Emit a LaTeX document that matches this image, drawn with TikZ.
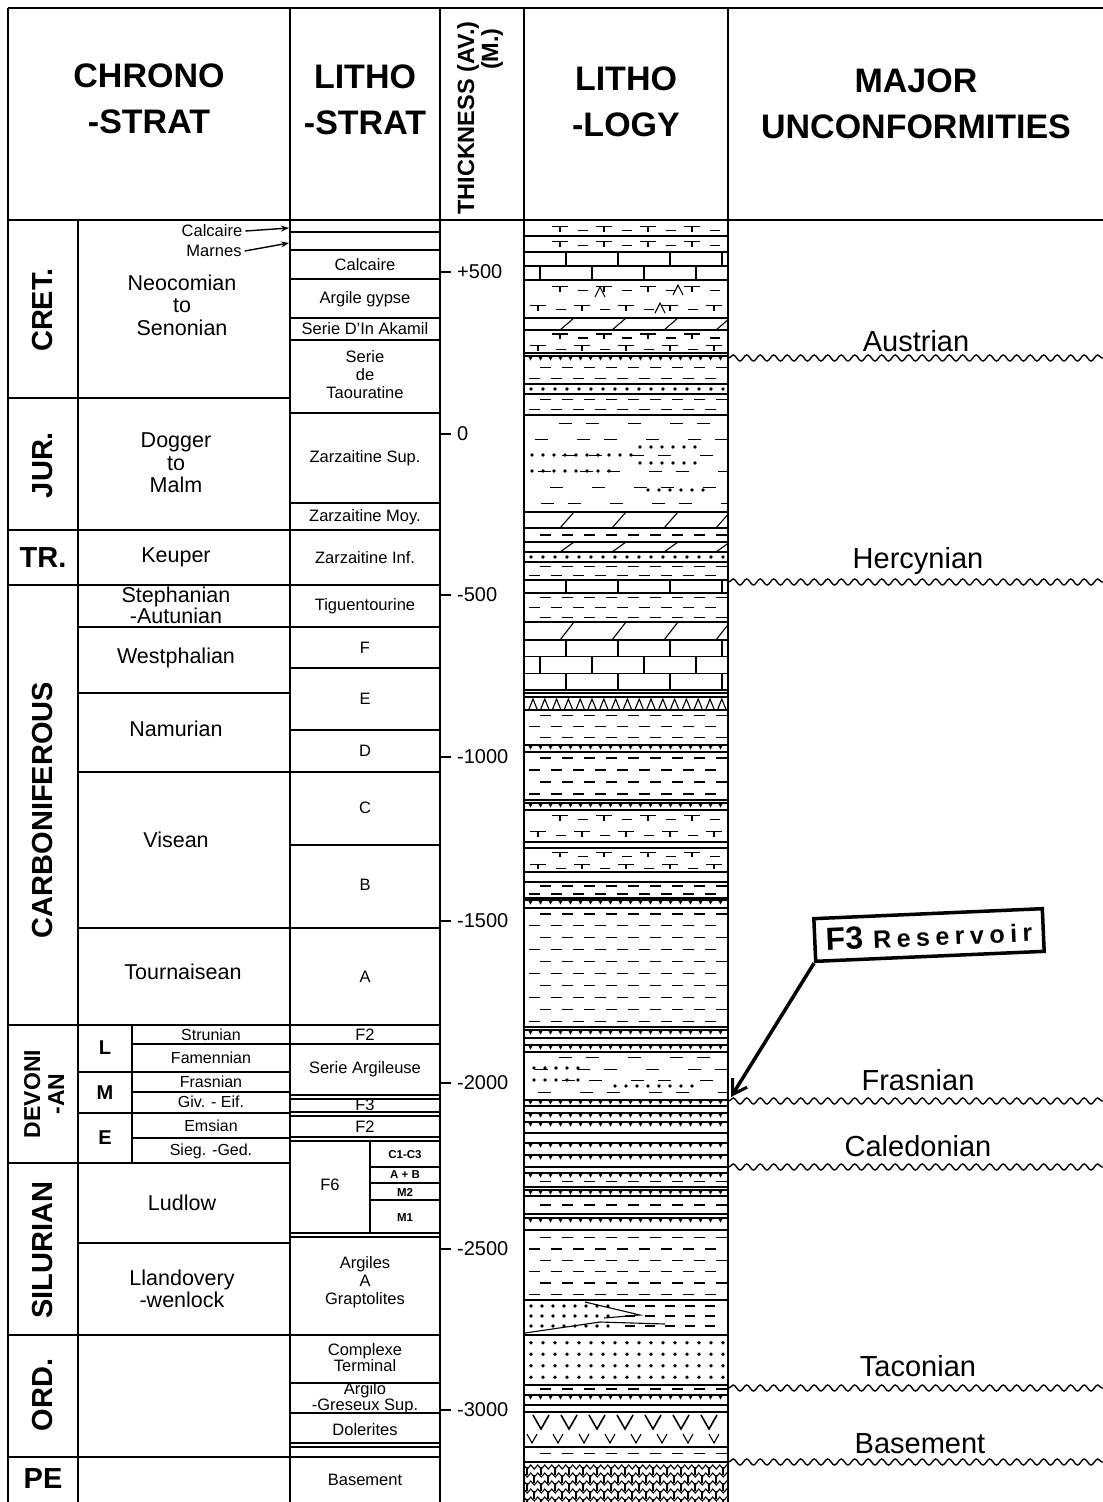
\documentclass[tikz,border=0pt]{standalone}
\usepackage{fontspec}
\setmainfont{Liberation Sans}
\usetikzlibrary{arrows.meta,decorations.pathmorphing}

\newcommand{\rsp}{\kern5.5pt}

\tikzset{
  frame/.style={line width=2.2pt},
  thinl/.style={line width=1.4pt},
  ln/.style={line width=1.1pt},
  wavy/.style={line width=1.4pt, decorate, decoration={snake, segment length=13.5pt, amplitude=3pt}},
  hdr/.style={font=\fontsize{34}{46}\selectfont\bfseries, align=center, inner sep=0pt},
  era/.style={font=\fontsize{29}{32}\selectfont\bfseries, rotate=90, inner sep=0pt},
  erah/.style={font=\fontsize{29}{32}\selectfont\bfseries, inner sep=0pt},
  chr/.style={font=\fontsize{21.5}{22.5}\selectfont, align=center, inner sep=0pt},
  stg/.style={font=\fontsize{16}{17}\selectfont, inner sep=0pt},
  lme/.style={font=\fontsize{20}{22}\selectfont\bfseries, inner sep=0pt},
  ltx/.style={font=\fontsize{16.5}{18}\selectfont, align=center, inner sep=0pt},
  sml/.style={font=\fontsize{11.5}{12}\selectfont\bfseries, inner sep=0pt},
  thk/.style={font=\fontsize{20}{22}\selectfont, inner sep=0pt, anchor=west},
  unc/.style={font=\fontsize{29}{32}\selectfont, inner sep=0pt},
}

% ---------- lithology pattern helpers ----------
\newcommand{\lithShale}[3]{%
 \begin{scope}
 \clip (525,#1) rectangle (727,#2);
 \foreach \i in {1,...,#3}{%
  \pgfmathsetmacro{\lyy}{#1+(#2-#1)*(\i-0.5)/#3}%
  \pgfmathsetmacro{\loff}{mod(\i,2)*11}%
  \foreach \k in {0,...,9}{%
   \draw[ln] ({529+\loff+\k*22},\lyy) -- ++(11,0);
  }
 }
 \end{scope}}

\newcommand{\lithShaleS}[3]{%
 \begin{scope}
 \clip (525,#1) rectangle (727,#2);
 \foreach \i in {1,...,#3}{%
  \pgfmathsetmacro{\lyy}{#1+(#2-#1)*(\i-0.5)/#3}%
  \foreach \k in {0,...,5}{%
   \pgfmathsetmacro{\lxx}{532+mod(\i,2)*18+\k*36+mod(\k*7+\i*3,5)*3}%
   \draw[ln] (\lxx,\lyy) -- ++(13,0);
  }
 }
 \end{scope}}

\newcommand{\lithLime}[3]{%
 \begin{scope}
 \clip (525,#1) rectangle (727,#2);
 \foreach \i in {1,...,#3}{%
  \pgfmathsetmacro{\lya}{#1+(#2-#1)*(\i-1)/#3}%
  \pgfmathsetmacro{\lyb}{#1+(#2-#1)*\i/#3}%
  \pgfmathsetmacro{\loff}{mod(\i,2)*26}%
  \draw[ln] (522,\lyb) -- (730,\lyb);
  \foreach \k in {0,...,4}{%
   \draw[ln] ({540+\loff+\k*52},\lya) -- ({540+\loff+\k*52},\lyb);
  }
 }
 \end{scope}}

\newcommand{\lithDolo}[3]{%
 \begin{scope}
 \clip (525,#1) rectangle (727,#2);
 \foreach \i in {1,...,#3}{%
  \pgfmathsetmacro{\lya}{#1+(#2-#1)*(\i-1)/#3}%
  \pgfmathsetmacro{\lyb}{#1+(#2-#1)*\i/#3}%
  \pgfmathsetmacro{\loff}{mod(\i,2)*26}%
  \draw[ln] (522,\lyb) -- (730,\lyb);
  \foreach \k in {0,...,4}{%
   \draw[ln] ({534+\loff+\k*52},\lyb) -- ({548+\loff+\k*52},\lya);
  }
 }
 \end{scope}}

\newcommand{\lithSand}[3]{%
 \begin{scope}
 \clip (525,#1) rectangle (727,#2);
 \foreach \i in {1,...,#3}{%
  \pgfmathsetmacro{\lyy}{#1+(#2-#1)*(\i-0.5)/#3}%
  \foreach \k in {0,...,16}{%
   \fill ({531+\k*12},\lyy) circle (1.8pt);
  }
 }
 \end{scope}}

\newcommand{\lithMarl}[3]{%
 \begin{scope}
 \clip (525,#1) rectangle (727,#2);
 \foreach \i in {1,...,#3}{%
  \pgfmathsetmacro{\lyy}{#1+(#2-#1)*(\i-0.65)/#3}%
  \pgfmathsetmacro{\loff}{mod(\i,2)*22}%
  \foreach \k in {0,...,4}{%
   \draw[ln] ({530+\loff+\k*44},\lyy) -- ++(16,0);
   \draw[ln] ({538+\loff+\k*44},\lyy) -- ++(0,5);
   \draw[ln] ({556+\loff+\k*44},{\lyy+4}) -- ++(10,0);
  }
 }
 \end{scope}}

\newcommand{\lithTooth}[1]{%
 \draw[ln] (524,#1) -- (728,#1);
 \foreach \k in {0,...,19}{%
  \fill ({528+\k*10},#1) -- ++(5,0) -- ++(-2.5,4.5) -- cycle;
 }}

\newcommand{\lithAnh}[2]{%
 \foreach \k in {0,...,16}{%
  \draw[ln] ({529+\k*11.8},#2) -- ({533+\k*11.8},#1) -- ({537+\k*11.8},#2);
 }}

\newcommand{\lithCaret}[2]{%
 \draw[ln] ({#1-5},{#2+5}) -- (#1,{#2-5}) -- ({#1+5},{#2+5});}

\newcommand{\lithDots}[3]{%
 \foreach \k in {1,...,#2}{%
  \fill ({#1+(\k-1)*11},#3) circle (1.8pt);
 }}

\begin{document}
\begin{tikzpicture}[x=1pt,y=-1pt]
\useasboundingbox (0,0) rectangle (1103,1502);
\fill[white] (0,0) rectangle (1103,1502);

% ================= LITHOLOGY COLUMN =================
\lithMarl{222}{236}{1}
\lithMarl{236}{252}{1}
\lithLime{252}{280}{2}
\lithMarl{280}{318}{2}
\lithCaret{600}{292}
\lithCaret{678}{290}
\lithCaret{660}{308}
\lithDolo{318}{330}{1}
\lithMarl{330}{353}{2}
\lithTooth{356}
\lithShale{362}{384}{2}
\lithSand{384}{394}{1}
\lithShale{394}{415}{2}
\lithShaleS{415}{512}{6}
\lithDots{640}{6}{447}
\lithDots{640}{6}{463}
\lithDots{532}{10}{455}
\lithDots{532}{8}{471}
\lithDots{648}{6}{490}
\lithDolo{512}{528}{1}
\lithShale{528}{542}{1}
\lithDolo{542}{552}{1}
\lithSand{552}{562}{1}
\lithShale{562}{580}{2}
\lithLime{580}{593}{1}
\lithShale{593}{622}{3}
\lithDolo{622}{640}{1}
\lithLime{640}{690}{3}
\lithAnh{699}{709}
\lithShale{710}{743}{3}
\lithTooth{745}
\lithShale{752}{800}{4}
\lithTooth{803}
\lithMarl{810}{842}{2}
\lithMarl{848}{872}{2}
\lithShale{882}{898}{2}
\lithTooth{900}
\lithShale{908}{1027}{10}
\lithTooth{1030}
\lithTooth{1045}
\lithShaleS{1052}{1098}{4}
\lithDots{534}{5}{1068}
\lithDots{534}{5}{1080}
\lithDots{615}{8}{1086}
\lithTooth{1100}
\lithTooth{1113}
\lithTooth{1122}
\lithTooth{1143}
\lithTooth{1155}
\lithTooth{1173}
\lithShale{1176}{1187}{1}
\lithTooth{1190}
\lithShale{1196}{1214}{1}
\lithTooth{1218}
\lithShale{1232}{1300}{6}
\begin{scope}
 \clip (525,1300) rectangle (727,1335);
 \foreach \r in {0,1,2}{\lithDots{531}{8}{1306+\r*10}}
 \foreach \r in {0,1,2}{\foreach \k in {0,...,4}{\draw[ln] ({625+\k*20},{1306+\r*10}) -- ++(10,0);}}
 \draw[ln] (525,1333) -- (600,1322) -- (665,1324);
 \draw[ln] (585,1302) -- (640,1315) -- (604,1318);
\end{scope}
\lithSand{1337}{1383}{4}
\draw[line width=2pt] (524,1385) -- (728,1385);
\lithShale{1385}{1393}{1}
\lithTooth{1395}
\foreach \k in {0,...,6}{\draw[line width=1.6pt] ({533+\k*28},1415) -- ({541+\k*28},1429) -- ({549+\k*28},1415);}
\foreach \k in {0,...,7}{\draw[ln] ({527+\k*26},1434) -- ({532+\k*26},1443) -- ({537+\k*26},1434);}
\lithShale{1447}{1460}{1}
\begin{scope}
 \clip (525,1462) rectangle (727,1502);
 \foreach \r in {0,...,4}{%
  \pgfmathsetmacro{\lyy}{1467+\r*8}
  \pgfmathsetmacro{\loff}{mod(\r,2)*7}
  \draw[ln, decorate, decoration={zigzag, segment length=7pt, amplitude=2pt}] (522,\lyy) -- (730,\lyy);
  \foreach \k in {0,...,14}{\draw[ln] ({527+\loff+\k*14},\lyy) -- ++(0,8);}
 }
\end{scope}
\foreach \y in {236,252,318,330,353,384,394,415,512,528,542,552,562,580,622,640,693,697,710,752,800,810,842,848,872,882,898,908,1027,1038,1052,1106,1133,1167,1187,1196,1214,1230,1300,1335,1405,1412,1447,1462}{
  \draw[ln] (524,\y) -- (728,\y);
}

% ================= TABLE FRAME =================
\draw[frame] (8,8) -- (1103,8);
\draw[frame] (8,220) -- (1103,220);
\draw[frame] (8,8) -- (8,1502);
\draw[frame] (78,220) -- (78,1502);
\draw[frame] (132,1025) -- (132,1163);
\draw[frame] (290,8) -- (290,1502);
\draw[frame] (370,1141) -- (370,1233);
\draw[frame] (440,8) -- (440,1502);
\draw[frame] (524,8) -- (524,1502);
\draw[frame] (728,8) -- (728,1502);
\foreach \y in {398,530,585,1025,1163,1335,1457}{\draw[frame] (8,\y) -- (290,\y);}
\foreach \y in {627,693,772,928,1243}{\draw[frame] (78,\y) -- (290,\y);}
\foreach \y in {1072,1113}{\draw[frame] (78,\y) -- (132,\y);}
\foreach \y in {1044,1072,1092,1113,1138}{\draw[thinl] (132,\y) -- (290,\y);}
\foreach \y in {232,250,279,318,340,413,503,530,585,627,668,730,772,845,928,1025,1044,1095,1099,1112,1116,1137,1141,1233,1237,1335,1383,1443,1447,1457}{\draw[frame] (290,\y) -- (440,\y);}
\draw[thinl] (290,1413) -- (440,1413);
\foreach \y in {1167,1183,1200}{\draw[thinl] (370,\y) -- (440,\y);}

% ================= HEADER =================
\node[hdr] (hchrono) at (149,99) {CHRONO\\-STRAT};
\node[hdr] (hlitho) at (365,100) {LITHO\\-STRAT};
\node[font=\fontsize{23.5}{25}\selectfont\bfseries, rotate=90, anchor=west, inner sep=0pt] (hthick) at (468,215) {THICKNESS (AV.)};
\node[font=\fontsize{23.5}{25}\selectfont\bfseries, rotate=90, anchor=east, inner sep=0pt] (hmeter) at (492,28) {(M.)};
\node[hdr] (hlogy) at (626,102) {LITHO\\-LOGY};
\node[hdr] (hunc) at (916,104) {MAJOR\\UNCONFORMITIES};

% ================= ERAS =================
\node[era] (ecret) at (43,310) {CRET.};
\node[era] (ejur) at (43,465) {JUR.};
\node[erah] (etr) at (43,558) {TR.};
\node[era] (ecarb) at (43,810) {CARBONIFEROUS};
\node[era, font=\fontsize{23}{24}\selectfont\bfseries, align=center] (edev) at (44,1094) {DEVONI\\-AN};
\node[era] (esil) at (43,1250) {SILURIAN};
\node[era] (eord) at (43,1395) {ORD.};
\node[erah] (epe) at (43,1479) {PE};

% ================= CHRONO SUBDIVISIONS =================
\node[chr] (cneo) at (182,305) {Neocomian\\to\\Senonian};
\node[chr] (cdog) at (176,463) {Dogger\\to\\Malm};
\node[chr] (ckeu) at (176,557) {Keuper};
\node[chr, font=\fontsize{21.5}{17}\selectfont] (cste) at (176,605) {Stephanian\\-Autunian};
\node[chr] (cwes) at (176,658) {Westphalian};
\node[chr] (cnam) at (176,729) {Namurian};
\node[chr] (cvis) at (176,840) {Visean};
\node[chr] (ctou) at (183,972) {Tournaisean};
\node[lme] (cl) at (105,1048) {L};
\node[lme] (cm) at (105,1093) {M};
\node[lme] (ce) at (105,1138) {E};
\node[stg] (sstr) at (211,1035) {Strunian};
\node[stg] (sfam) at (211,1058) {Famennian};
\node[stg] (sfra) at (211,1082) {Frasnian};
\node[stg] (sgiv) at (211,1102) {Giv. - Eif.};
\node[stg] (sems) at (211,1126) {Emsian};
\node[stg] (ssie) at (211,1151) {Sieg. -Ged.};
\node[chr] (clud) at (182,1203) {Ludlow};
\node[chr] (clla) at (182,1289) {Llandovery\\-wenlock};

% ================= LITHO-STRAT =================
\node[ltx] (lcalcl) at (212,231) {Calcaire};
\node[ltx] (lmarnl) at (214,251) {Marnes};
\coordinate (pcalc) at (289,228);
\coordinate (pmarn) at (289,243);
\draw[thinl,-{Stealth[length=8pt,width=6pt]}] (lcalcl.east) ++(3,0) -- (pcalc);
\draw[thinl,-{Stealth[length=8pt,width=6pt]}] (lmarnl.east) ++(3,0) -- (pmarn);
\node[ltx] (lcal) at (365,265) {Calcaire};
\node[ltx] (larg) at (365,299) {Argile gypse};
\node[ltx] (lser) at (365,329) {Serie D'In Akamil};
\node[ltx] (ltao) at (365,375) {Serie\\de\\Taouratine};
\node[ltx] (lzsup) at (365,458) {Zarzaitine Sup.};
\node[ltx] (lzmoy) at (365,517) {Zarzaitine Moy.};
\node[ltx] (lzinf) at (365,558) {Zarzaitine Inf.};
\node[ltx] (ltig) at (365,606) {Tiguentourine};
\node[ltx] (lf) at (365,648) {F};
\node[ltx] (le) at (365,699) {E};
\node[ltx] (ld) at (365,751) {D};
\node[ltx] (lc) at (365,808) {C};
\node[ltx] (lb) at (365,885) {B};
\node[ltx] (la) at (365,977) {A};
\node[ltx] (lf2a) at (365,1035) {F2};
\node[ltx] (lsa) at (365,1069) {Serie Argileuse};
\node[ltx] (lf3) at (365,1105) {F3};
\node[ltx] (lf2b) at (365,1127) {F2};
\node[ltx] (lf6) at (330,1185) {F6};
\node[sml] (lc1) at (405,1155) {C1-C3};
\node[sml] (lab) at (405,1175) {A + B};
\node[sml] (lm2) at (405,1192) {M2};
\node[sml] (lm1) at (405,1218) {M1};
\node[ltx] (lgra) at (365,1282) {Argiles\\A\\Graptolites};
\node[ltx, font=\fontsize{16.5}{16}\selectfont] (lcom) at (365,1358) {Complexe\\Terminal};
\node[ltx, font=\fontsize{16.5}{14}\selectfont] (lagr) at (365,1398) {Argilo\\-Greseux Sup.};
\node[ltx] (ldol) at (365,1430) {Dolerites};
\node[ltx] (lbas) at (365,1480) {Basement};

% ================= THICKNESS =================
\foreach \y/\lbl in {272/+500,434/0,595/-500,757/-1000,921/-1500,1083/-2000,1249/-2500,1410/-3000}{
  \coordinate (tick\y) at (440,\y);
  \coordinate (tickend\y) at (451,\y);
  \draw[thinl] (tick\y) -- (tickend\y);
  \node[thk] (tl\y) at (457,\y) {\lbl};
}

% ================= UNCONFORMITIES =================
\node[unc] (uaus) at (916,341) {Austrian};
\node[unc] (uher) at (918,561) {Hercynian};
\node[unc] (ufra) at (918,1080) {Frasnian};
\node[unc] (ucal) at (918,1146) {Caledonian};
\node[unc] (utac) at (918,1366) {Taconian};
\node[unc] (ubas) at (920,1444) {Basement};
\foreach \y in {358,582,1101,1167,1388,1462}{
  \coordinate (wa\y) at (729,\y);
  \coordinate (wb\y) at (1103,\y);
  \draw[wavy] (wa\y) -- (wb\y);
}

% ================= F3 RESERVOIR =================
\node[draw, line width=3.5pt, rotate=2.5, inner xsep=11pt, inner ysep=10pt] (f3box) at (929,935)
  {\fontsize{32}{33}\selectfont\bfseries F3\hspace{10pt}\fontsize{25}{26}\selectfont R\rsp e\rsp s\rsp e\rsp r\rsp v\rsp o\rsp i\rsp r};
\coordinate (f3tip) at (731,1097);
\draw[line width=3.5pt, -{Straight Barb[length=14pt,width=17pt,line width=3pt]}] (f3box.south west) -- (f3tip);

\end{tikzpicture}
\end{document}
